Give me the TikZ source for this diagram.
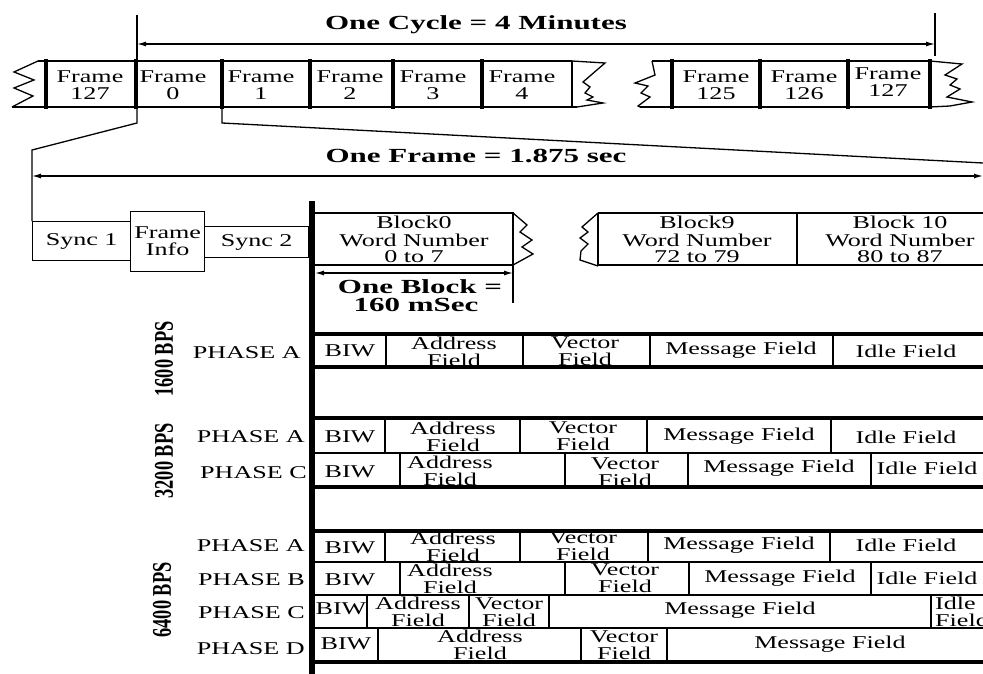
\documentclass[tikz,border=0pt]{standalone}
\usepackage{fontspec}
\usetikzlibrary{arrows.meta}
\newfontfamily\sfnt[FakeStretch=1.45]{Liberation Serif}
\newfontfamily\tfnt[FakeStretch=1.55]{Liberation Serif}
\newfontfamily\cfnt[FakeStretch=0.68]{Liberation Serif}
\tikzset{
 ln/.style={line width=1.3pt},
 fbar/.style={line width=4.5pt},
 hbar/.style={line width=4pt},
 mbar/.style={line width=6.5pt},
 dim/.style={line width=1.3pt,{Latex[length=9pt,width=5pt]}-{Latex[length=9pt,width=5pt]}},
 txt/.style={inner sep=0pt,align=center,font=\sfnt\fontsize{18pt}{17pt}\selectfont},
 ttl/.style={inner sep=0pt,align=center,font=\tfnt\bfseries\fontsize{20pt}{19pt}\selectfont},
 bps/.style={inner sep=0pt,rotate=90,font=\cfnt\bfseries\fontsize{27pt}{28pt}\selectfont},
 ph/.style={txt,anchor=east},
 box/.style={draw,ln,txt,anchor=north west}
}
\begin{document}
\begin{tikzpicture}[x=1pt,y=-1pt]
\fill[white] (0,0) rectangle (983,674);
\useasboundingbox (0,0) rectangle (983,674);

% ---------- cycle ----------
\node[ttl] (cycle) at (476,25) {One Cycle = 4 Minutes};
\coordinate (cycL) at (137,44);
\coordinate (cycR) at (935,44);
\draw[ln] (137,15) -- (137,60);
\draw[ln] (935,13) -- (935,56);
\draw[dim] (cycL) -- (cycR);

% frame strip
\draw[ln] (38,61) -- (572,61);
\draw[ln] (12,107) -- (577,107);
\draw[ln] (572,61) -- (572,107);
\draw[ln] (38,61) -- (14,72) -- (34,80) -- (14,88) -- (33,96) -- (12,107);
\draw[ln] (572,61) -- (605,63) -- (583,82) -- (590,87) -- (585,93) -- (593,97) -- (587,100) -- (603,103) -- (577,107);
\draw[ln] (652,61) -- (930,61);
\draw[ln] (640,107) -- (930,107);
\draw[ln] (652,61) -- (655,75) -- (635,83) -- (648,86) -- (641,93) -- (650,97) -- (638,106) -- (640,107);
\draw[ln] (930,61) -- (962,64) -- (945,75) -- (957,79) -- (950,85) -- (960,89) -- (947,97) -- (972,102) -- (950,106) -- (930,107);
\foreach \x in {46,136,222,310,393,482,672,760,848,930}
  \draw[fbar] (\x,59) -- (\x,109);

\node[txt] (f127a) at (90,85) {Frame\\127};
\node[txt] (f0) at (173,85) {Frame\\0};
\node[txt] (f1) at (261,85) {Frame\\1};
\node[txt] (f2) at (350,85) {Frame\\2};
\node[txt] (f3) at (433,85) {Frame\\3};
\node[txt] (f4) at (522,85) {Frame\\4};
\node[txt] (f125) at (716,85) {Frame\\125};
\node[txt] (f126) at (804,85) {Frame\\126};
\node[txt] (f127b) at (888,82) {Frame\\127};

% expansion lines
\draw[ln] (137,107) -- (137,123) -- (32,150) -- (32,221);
\draw[ln] (222,107) -- (222,123) -- (983,163);

% ---------- one frame ----------
\node[ttl] (frame) at (476,156) {One Frame = 1.875 sec};
\coordinate (frL) at (32,176);
\coordinate (frR) at (983,176);
\draw[dim] (frL) -- (frR);

\node[box,minimum width=98pt,minimum height=39pt] (sync1) at (32,221) {Sync 1};
\node[box,minimum width=74pt,minimum height=60pt] (finfo) at (130,211) {Frame\\Info};
\node[box,minimum width=104pt,minimum height=31pt] (sync2) at (204,226) {Sync 2};

% main bar
\draw[mbar] (312,201) -- (312,674);

% block 0
\draw[ln] (315,213) -- (513,213) -- (513,303);
\draw[ln] (315,265) -- (513,265);
\draw[ln] (513,213) -- (527,225) -- (520,232) -- (532,240) -- (522,247) -- (533,254) -- (513,265);
\node[txt] (b0a) at (414,222) {Block0};
\node[txt] (b0b) at (414,240) {Word Number};
\node[txt] (b0c) at (414,257) {0 to 7};
\coordinate (obL) at (315,273);
\coordinate (obR) at (513,273);
\draw[dim] (obL) -- (obR);
\node[ttl] (ob1) at (420,287) {One Block =};
\node[ttl] (ob2) at (416,305) {160 mSec};

% block 9, 10
\draw[ln] (598,213) -- (983,213);
\draw[ln] (598,265) -- (983,265);
\draw[ln] (598,213) -- (598,265);
\draw[ln] (797,213) -- (797,265);
\draw[ln] (598,213) -- (582,227) -- (588,232) -- (580,238) -- (588,244) -- (581,251) -- (580,260) -- (598,266);
\node[txt] (b9a) at (697,222) {Block9};
\node[txt] (b9b) at (697,240) {Word Number};
\node[txt] (b9c) at (697,257) {72 to 79};
\node[txt] (b10a) at (900,222) {Block 10};
\node[txt] (b10b) at (900,240) {Word Number};
\node[txt] (b10c) at (900,257) {80 to 87};

% ---------- BPS labels ----------
\node[bps] (bps16) at (164,359) {1600 BPS};
\node[bps] (bps32) at (164,461) {3200 BPS};
\node[bps] (bps64) at (162,600) {6400 BPS};

% ---------- 1600 ----------
\draw[hbar] (312,334) -- (983,334);
\draw[hbar] (312,367) -- (983,367);
\foreach \x in {386,523,650,833} \draw[ln] (\x,334) -- (\x,367);
\node[ph] (p16a) at (301,353) {PHASE A};
\node[txt] (a16biw) at (350,351) {BIW};
\node[txt] (a16adr) at (454,352) {Address\\Field};
\node[txt] (a16vec) at (585,351) {Vector\\Field};
\node[txt] (a16msg) at (741,350) {Message Field};
\node[txt] (a16idl) at (906,351) {Idle Field};

% ---------- 3200 ----------
\draw[hbar] (312,418) -- (983,418);
\draw[ln] (312,453) -- (983,453);
\draw[hbar] (312,487) -- (983,487);
\foreach \x in {385,520,647,831} \draw[ln] (\x,418) -- (\x,453);
\foreach \x in {400,565,688,871} \draw[ln] (\x,453) -- (\x,487);
\node[ph] (p32a) at (305,437) {PHASE A};
\node[ph] (p32c) at (307,473) {PHASE C};
\node[txt] (a32biw) at (350,437) {BIW};
\node[txt] (a32adr) at (453,437) {Address\\Field};
\node[txt] (a32vec) at (583,436) {Vector\\Field};
\node[txt] (a32msg) at (739,436) {Message Field};
\node[txt] (a32idl) at (906,437) {Idle Field};
\node[txt] (c32biw) at (350,472) {BIW};
\node[txt] (c32adr) at (450,471) {Address\\Field};
\node[txt] (c32vec) at (625,472) {Vector\\Field};
\node[txt] (c32msg) at (779,468) {Message Field};
\node[txt] (c32idl) at (927,468) {Idle Field};

% ---------- 6400 ----------
\draw[hbar] (312,531) -- (983,531);
\draw[ln] (312,562) -- (983,562);
\draw[ln] (312,595) -- (983,595);
\draw[ln] (312,628) -- (983,628);
\draw[hbar] (312,662) -- (983,662);
\foreach \x in {385,520,648,830} \draw[ln] (\x,531) -- (\x,562);
\foreach \x in {400,565,689,871} \draw[ln] (\x,562) -- (\x,595);
\foreach \x in {367,469,549,931} \draw[ln] (\x,595) -- (\x,628);
\foreach \x in {378,581,667} \draw[ln] (\x,628) -- (\x,662);
\node[ph] (p64a) at (305,546) {PHASE A};
\node[ph] (p64b) at (305,580) {PHASE B};
\node[ph] (p64c) at (305,613) {PHASE C};
\node[ph] (p64d) at (305,649) {PHASE D};
\node[txt] (a64biw) at (350,548) {BIW};
\node[txt] (a64adr) at (453,547) {Address\\Field};
\node[txt] (a64vec) at (583,546) {Vector\\Field};
\node[txt] (a64msg) at (739,545) {Message Field};
\node[txt] (a64idl) at (906,545) {Idle Field};
\node[txt] (b64biw) at (350,580) {BIW};
\node[txt] (b64adr) at (450,579) {Address\\Field};
\node[txt] (b64vec) at (625,578) {Vector\\Field};
\node[txt] (b64msg) at (780,578) {Message Field};
\node[txt] (b64idl) at (927,578) {Idle Field};
\node[txt] (c64biw) at (341,609) {BIW};
\node[txt] (c64adr) at (418,612) {Address\\Field};
\node[txt] (c64vec) at (509,612) {Vector\\Field};
\node[txt] (c64msg) at (740,610) {Message Field};
\node[txt,anchor=west,align=left] (c64idl) at (935,612) {Idle\\Field};
\node[txt] (d64biw) at (346,644) {BIW};
\node[txt] (d64adr) at (480,645) {Address\\Field};
\node[txt] (d64vec) at (624,645) {Vector\\Field};
\node[txt] (d64msg) at (830,644) {Message Field};
\end{tikzpicture}
\end{document}
